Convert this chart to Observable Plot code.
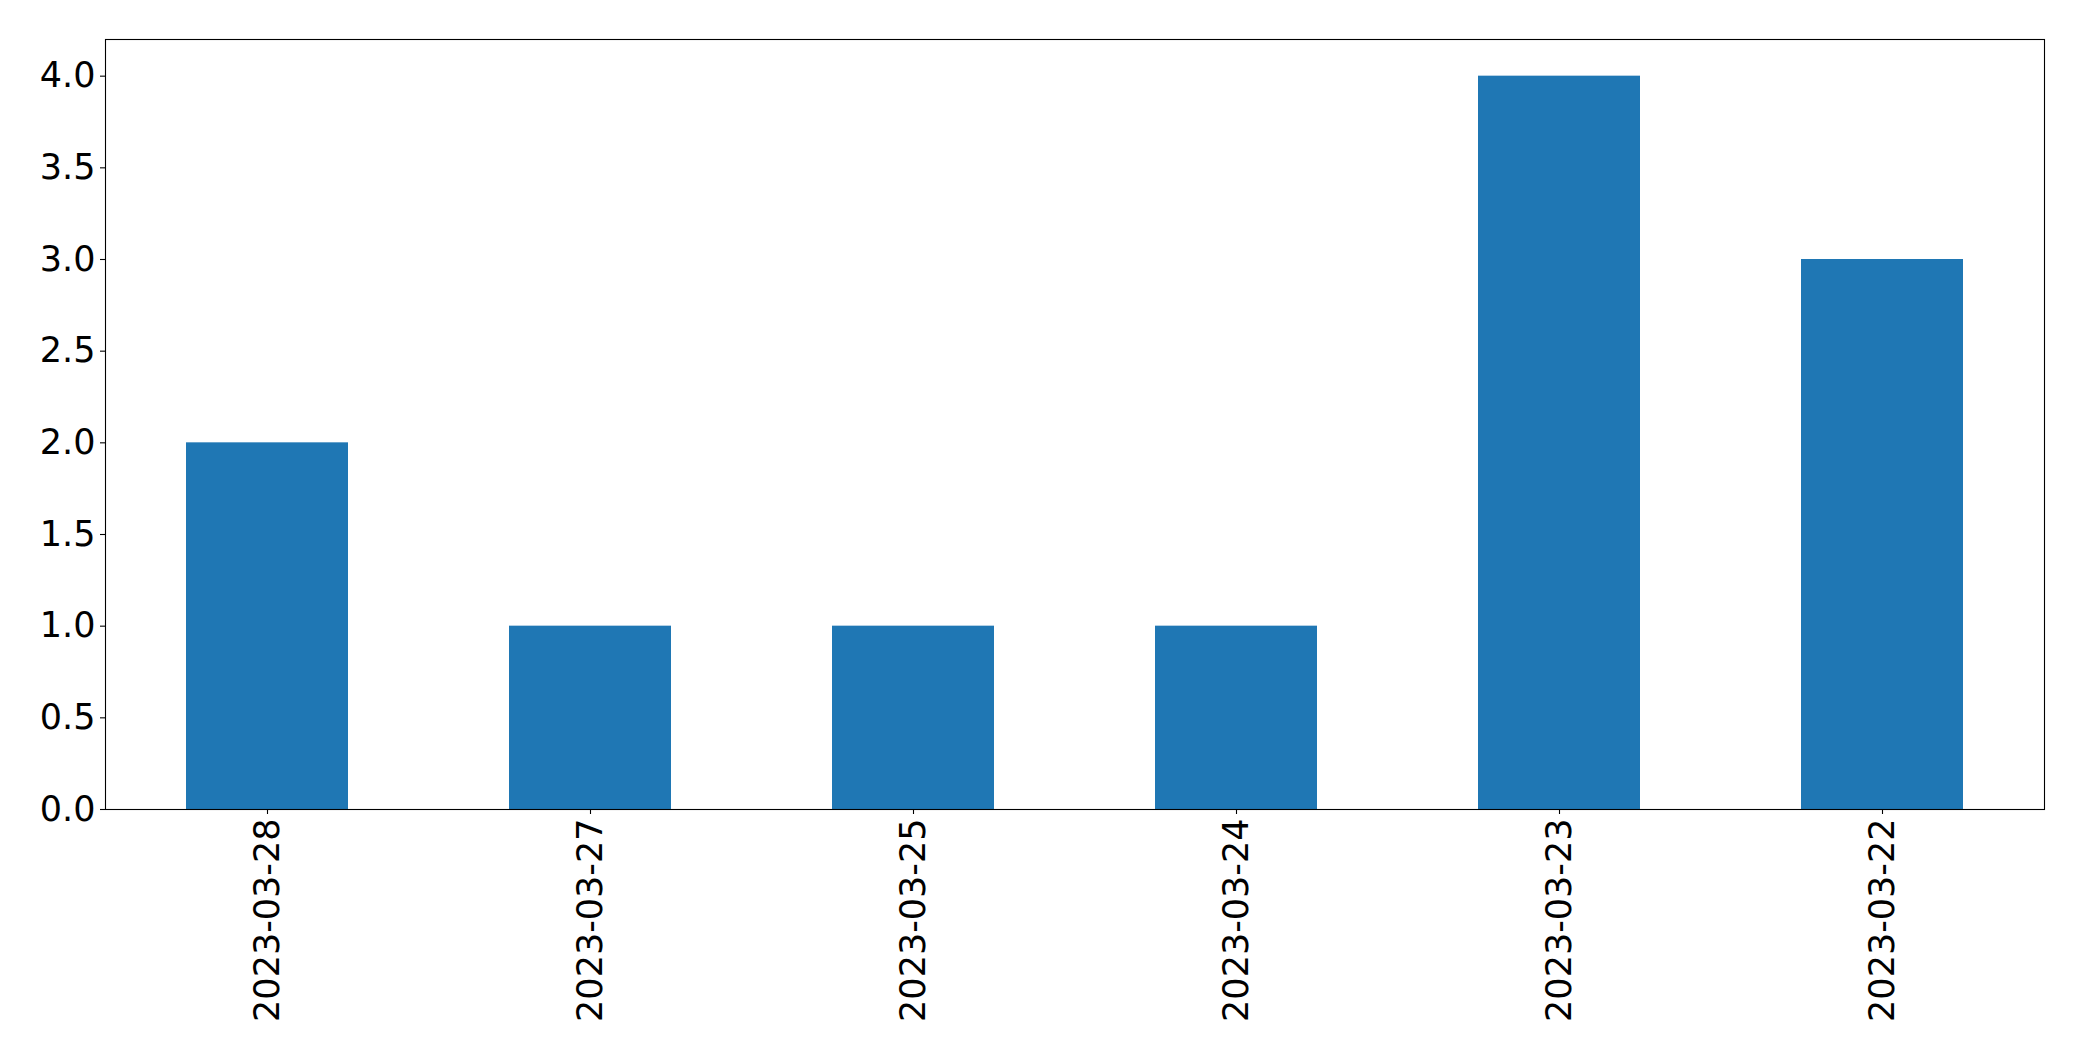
<!DOCTYPE html>
<html>
<head>
<meta charset="utf-8">
<script src="https://cdn.jsdelivr.net/npm/d3@7"></script>
<script src="https://cdn.jsdelivr.net/npm/@observablehq/plot@0.6"></script>
<style>
  html, body { margin: 0; padding: 0; background: #fff; }
  svg { display: block; }
</style>
</head>
<body>
<div id="chart"></div>
<script>
const dates = ["2023-03-28", "2023-03-27", "2023-03-25", "2023-03-24", "2023-03-23", "2023-03-22"];
const counts = [2, 1, 1, 1, 4, 3];
const yTicks = [0, 0.5, 1, 1.5, 2, 2.5, 3, 3.5, 4];

const data = dates.map((d, i) => ({date: d, count: counts[i]}));

const chart = Plot.plot({
  width: 2082,
  height: 1061,
  marginLeft: 105,
  marginRight: 38,
  marginTop: 39,
  marginBottom: 252,
  style: {fontSize: "35px", fontFamily: "DejaVu Sans", color: "#000", background: "#fff"},
  x: {type: "band", domain: dates, paddingInner: 0.5, paddingOuter: 0.25},
  y: {domain: [0, 4.2]},
  marks: [
    Plot.barY(data, {x: "date", y: "count", fill: "#1f77b4"}),
    Plot.axisY({ticks: yTicks, tickFormat: d3.format(".1f"), tickSize: 5, tickPadding: 5, label: null, stroke: "#000", strokeWidth: 1.1}),
    Plot.axisX({tickRotate: -90, tickSize: 5, tickPadding: 4, label: null, stroke: "#000", strokeWidth: 1.1}),
    Plot.frame({stroke: "#000", strokeWidth: 1.1})
  ]
});
document.getElementById("chart").appendChild(chart);
</script>
</body>
</html>
